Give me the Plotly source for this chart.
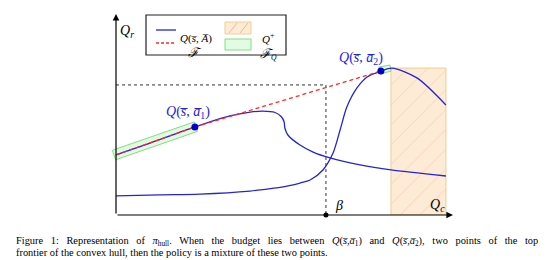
import plotly.graph_objects as go

W, H = 553, 260

# ---- data ----
curve1_x = [0.0, 1.01, 2.34, 3.38, 3.98, 4.36, 4.72, 4.90, 4.99, 5.01, 5.10, 5.46, 5.85, 6.35, 7.24, 8.16, 9.79]
curve1_y = [2.99, 3.58, 4.38, 4.93, 5.12, 5.17, 5.10, 4.90, 4.63, 4.33, 3.98, 3.48, 3.13, 2.84, 2.49, 2.24, 1.94]

curve2_x = [0.0, 1.31, 2.49, 3.98, 4.48, 4.87, 5.46, 5.76, 6.14, 6.44, 6.65, 6.85, 7.15, 7.45, 7.86, 8.19, 8.93, 9.79]
curve2_y = [0.95, 1.00, 1.04, 1.19, 1.29, 1.37, 1.59, 1.74, 2.24, 3.08, 4.23, 5.37, 6.32, 6.87, 7.16, 7.31, 6.82, 5.47]

hull_x = [0.0, 2.34, 7.86]
hull_y = [2.99, 4.38, 7.16]

points_x = [2.34, 7.86]
points_y = [4.38, 7.16]
point_labels = ["<i>Q</i>(<i>s̅</i>, <i>a̅</i><sub>1</sub>)", "<i>Q</i>(<i>s̅</i>, <i>a̅</i><sub>2</sub>)"]
label_x = [2.14, 7.27]
label_y = [5.12, 7.81]

band1_x = [-0.11, 2.32, 2.42, -0.01, -0.11]
band1_y = [3.22, 4.63, 4.16, 2.75, 3.22]
band2_x = [7.80, 8.13, 8.16, 7.83, 7.80]
band2_y = [7.36, 7.46, 7.16, 7.01, 7.36]

qplus_x = [8.16, 9.79, 9.79, 8.16, 8.16]
qplus_y = [0.0, 0.0, 7.31, 7.31, 0.0]

beta_x = 6.23
budget_y = 6.47

x_range = [-0.3, 10.0]
y_range = [0.0, 10.0]

caption1 = ("Figure 1: Representation of <i>π</i><sub>hull</sub>. When the budget lies between "
            "<i>Q</i>(<i>s̅</i>,<i>a̅</i><sub>1</sub>) and <i>Q</i>(<i>s̅</i>,<i>a̅</i><sub>2</sub>), two points of the top")
caption2 = "frontier of the convex hull, then the policy is a mixture of these two points."

BLUE = "#2424d8"
RED = "#ff2a2a"
GREEN_FILL = "rgba(200,245,200,0.55)"
GREEN_LINE = "#7ee07e"
SERIF = "Liberation Serif"
SCRIPT_F = "<span style='font-family:DejaVu Serif;font-size:13px'><i>ℱ</i></span>"

fig = go.Figure()

# Q+ hatched region
fig.add_trace(go.Scatter(x=qplus_x, y=qplus_y, mode="lines", fill="toself",
                         line=dict(color="#f1cd92", width=1),
                         fillcolor="#fdebd6",
                         fillpattern=dict(shape="/", fgcolor="#f0b09a", bgcolor="#fdebd6",
                                          size=14, solidity=0.06),
                         hoverinfo="skip", showlegend=False))
# F_Q green bands
for bx, by in [(band1_x, band1_y), (band2_x, band2_y)]:
    fig.add_trace(go.Scatter(x=bx, y=by, mode="lines", fill="toself",
                             line=dict(color=GREEN_LINE, width=1), fillcolor=GREEN_FILL,
                             hoverinfo="skip", showlegend=False))
# dotted budget lines
fig.add_trace(go.Scatter(x=[x_range[0] + 0.3, beta_x, beta_x], y=[budget_y, budget_y, 0],
                         mode="lines", line=dict(color="#333333", width=1, dash="dot"),
                         hoverinfo="skip", showlegend=False))
# curves
fig.add_trace(go.Scatter(x=curve2_x, y=curve2_y, mode="lines",
                         line=dict(color=BLUE, width=1.3, shape="spline", smoothing=0.8),
                         showlegend=False))
fig.add_trace(go.Scatter(x=curve1_x, y=curve1_y, mode="lines",
                         line=dict(color=BLUE, width=1.3, shape="spline", smoothing=0.7),
                         showlegend=False))
# hull frontier
fig.add_trace(go.Scatter(x=hull_x, y=hull_y, mode="lines",
                         line=dict(color=RED, width=1.3, dash="4px,3px"), showlegend=False))
# points
fig.add_trace(go.Scatter(x=points_x, y=points_y, mode="markers",
                         marker=dict(color="#0000cc", size=7), showlegend=False))
fig.add_trace(go.Scatter(x=[beta_x], y=[0], mode="markers",
                         marker=dict(color="black", size=5), showlegend=False, cliponaxis=False))

annotations = []
for t, lx, ly in zip(point_labels, label_x, label_y):
    annotations.append(dict(x=lx, y=ly, xref="x", yref="y", text=t, showarrow=False,
                            font=dict(family=SERIF, size=14, color=BLUE)))
# axes arrows
annotations.append(dict(x=x_range[1], y=0, ax=0, ay=0, xref="x", yref="y", axref="x", ayref="y",
                        text="", showarrow=True, arrowhead=2, arrowsize=1.1, arrowwidth=1.2,
                        arrowcolor="black"))
annotations.append(dict(x=0, y=y_range[1], ax=0, ay=0, xref="x", yref="y", axref="x", ayref="y",
                        text="", showarrow=True, arrowhead=2, arrowsize=1.1, arrowwidth=1.2,
                        arrowcolor="black"))
annotations.append(dict(x=0.33, y=9.15, xref="x", yref="y", text="<i>Q<sub>r</sub></i>",
                        showarrow=False, font=dict(family=SERIF, size=14, color="black")))
annotations.append(dict(x=9.53, y=0.45, xref="x", yref="y", text="<i>Q<sub>c</sub></i>",
                        showarrow=False, font=dict(family=SERIF, size=14, color="black")))
annotations.append(dict(x=beta_x + 0.38, y=0.45, xref="x", yref="y", text="<i>β</i>",
                        showarrow=False, font=dict(family=SERIF, size=14, color="black")))


def P(px, py):
    return px / W, 1 - py / H


shapes = []
# legend frame
x0, y0 = P(146, 15)
x1, y1 = P(286, 55)
shapes.append(dict(type="rect", xref="paper", yref="paper", x0=x0, y0=y0, x1=x1, y1=y1,
                   line=dict(color="#222", width=1.2), fillcolor="white", layer="above"))
a, b = P(156, 30); c, d = P(176, 30)
shapes.append(dict(type="line", xref="paper", yref="paper", x0=a, y0=b, x1=c, y1=d,
                   line=dict(color=BLUE, width=1.3), layer="above"))
a, b = P(156, 43); c, d = P(176, 43)
shapes.append(dict(type="line", xref="paper", yref="paper", x0=a, y0=b, x1=c, y1=d,
                   line=dict(color=RED, width=1.3, dash="3px,2px"), layer="above"))
a, b = P(225, 22); c, d = P(251, 34)
shapes.append(dict(type="rect", xref="paper", yref="paper", x0=a, y0=b, x1=c, y1=d,
                   line=dict(color="#f1cd92", width=1), fillcolor="#fdebd6", layer="above"))
for hx in (231, 242):
    a, b = P(hx - 2, 33); c, d = P(hx + 6, 23)
    shapes.append(dict(type="line", xref="paper", yref="paper", x0=a, y0=b, x1=c, y1=d,
                       line=dict(color="#f0a890", width=0.8), layer="above"))
a, b = P(225, 39); c, d = P(251, 50)
shapes.append(dict(type="rect", xref="paper", yref="paper", x0=a, y0=b, x1=c, y1=d,
                   line=dict(color=GREEN_LINE, width=1), fillcolor="#e3fbe3", layer="above"))

legend_texts = [("<i>Q</i>(<i>s̅</i>, <i>A̅</i>)", 196, 30),
                (SCRIPT_F, 195, 43),
                ("<i>Q</i><sup>+</sup>", 268, 29),
                (SCRIPT_F + "<sub><i>Q</i></sub>", 268, 44)]
for t, px, py in legend_texts:
    a, b = P(px, py)
    annotations.append(dict(x=a, y=b, xref="paper", yref="paper", text=t, showarrow=False,
                            font=dict(family=SERIF, size=11, color="black")))

a, b = P(14, 241)
annotations.append(dict(x=a, y=b, xref="paper", yref="paper",
                        text="<span style='word-spacing:5px'>" + caption1 + "</span>",
                        showarrow=False, xanchor="left", yanchor="middle",
                        font=dict(family=SERIF, size=10.4, color="black")))
a, b = P(14, 252)
annotations.append(dict(x=a, y=b, xref="paper", yref="paper", text=caption2, showarrow=False,
                        xanchor="left", yanchor="middle",
                        font=dict(family=SERIF, size=10.4, color="black")))

# plot area mapping: x=0 at px 116, x=10 at px 453; y=0 at py 215, y=10 at py 14
sx = (453 - 116) / 10.0
dom_x0 = (116 + x_range[0] * sx) / W
dom_x1 = 453 / W
dom_y0 = (H - 215) / H
dom_y1 = (H - 14) / H

fig.update_layout(
    width=W, height=H, margin=dict(l=0, r=0, t=0, b=0),
    paper_bgcolor="white", plot_bgcolor="white",
    xaxis=dict(domain=[dom_x0, dom_x1], range=x_range, visible=False),
    yaxis=dict(domain=[dom_y0, dom_y1], range=y_range, visible=False),
    annotations=annotations, shapes=shapes, showlegend=False,
)

fig.write_html("out.html")
